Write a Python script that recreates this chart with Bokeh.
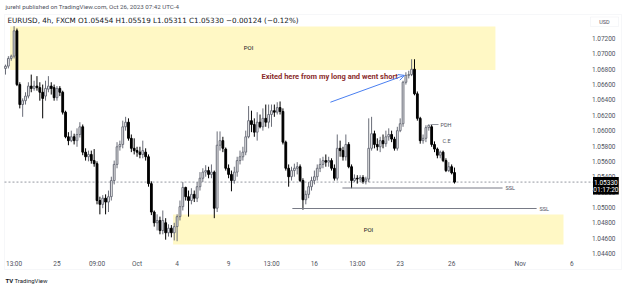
from bokeh.plotting import figure
from bokeh.models import (ColumnDataSource, FixedTicker, NumeralTickFormatter, Label,
                          Arrow, OpenHead, BoxAnnotation)
from bokeh.embed import file_html
from bokeh.resources import INLINE

# ---------------- data (EURUSD 4h candles) ----------------
opens = [1.0681,1.0684,1.0694,1.0697,1.0730,1.0660,1.0634,1.0639,1.0645,1.0658,
         1.0655,1.0658,1.0656,1.0650,1.0645,1.0654,1.0658,1.0656,1.0643,1.0655,
         1.0650,1.0624,1.0592,1.0587,1.0592,1.0587,1.0595,1.0605,1.0572,1.0566,
         1.0569,1.0561,1.0557,1.0509,1.0504,1.0512,1.0507,1.0514,1.0535,1.0556,
         1.0579,1.0582,1.0605,1.0611,1.0590,1.0577,1.0574,1.0572,1.0569,1.0572,
         1.0566,1.0531,1.0494,1.0480,1.0483,1.0470,1.0480,1.0467,1.0473,1.0467,
         1.0475,1.0488,1.0501,1.0526,1.0514,1.0509,1.0517,1.0512,1.0527,1.0538,
         1.0546,1.0548,1.0543,1.0546,1.0499,1.0581,1.0587,1.0576,1.0551,1.0543,
         1.0535,1.0546,1.0561,1.0566,1.0572,1.0592,1.0613,1.0608,1.0598,1.0611,
         1.0605,1.0616,1.0611,1.0621,1.0626,1.0624,1.0630,1.0625,1.0585,1.0551,
         1.0540,1.0548,1.0551,1.0553,1.0535,1.0510,1.0517,1.0527,1.0535,1.0540,
         1.0551,1.0556,1.0561,1.0559,1.0561,1.0551,1.0538,1.0577,1.0574,1.0566,
         1.0582,1.0553,1.0535,1.0538,1.0537,1.0539,1.0534,1.0537,1.0577,1.0596,
         1.0582,1.0579,1.0587,1.0583,1.0592,1.0595,1.0589,1.0577,1.0600,1.0609,
         1.0663,1.0672,1.0673,1.0680,1.0648,1.0616,1.0587,1.0590,1.0604,1.0605,
         1.0582,1.0576,1.0568,1.0572,1.0561,1.0548,1.0553,1.05454]
highs = [1.0686,1.0697,1.0699,1.0736,1.0733,1.0663,1.0642,1.0650,1.0663,1.0673,
         1.0665,1.0671,1.0663,1.0660,1.0665,1.0671,1.0663,1.0660,1.0658,1.0658,
         1.0652,1.0626,1.0598,1.0600,1.0596,1.0603,1.0611,1.0608,1.0577,1.0574,
         1.0574,1.0576,1.0560,1.0514,1.0516,1.0517,1.0522,1.0540,1.0561,1.0585,
         1.0587,1.0613,1.0618,1.0616,1.0595,1.0590,1.0579,1.0579,1.0587,1.0577,
         1.0569,1.0534,1.0496,1.0491,1.0488,1.0496,1.0486,1.0478,1.0477,1.0480,
         1.0491,1.0509,1.0533,1.0527,1.0522,1.0525,1.0522,1.0533,1.0546,1.0551,
         1.0555,1.0553,1.0556,1.0548,1.0599,1.0599,1.0592,1.0578,1.0556,1.0548,
         1.0553,1.0566,1.0574,1.0579,1.0600,1.0632,1.0626,1.0616,1.0624,1.0621,
         1.0629,1.0634,1.0634,1.0634,1.0634,1.0637,1.0638,1.0629,1.0587,1.0556,
         1.0553,1.0557,1.0559,1.0556,1.0538,1.0522,1.0533,1.0540,1.0548,1.0556,
         1.0564,1.0566,1.0569,1.0566,1.0564,1.0556,1.0595,1.0587,1.0579,1.0595,
         1.0585,1.0556,1.0543,1.0542,1.0542,1.0542,1.0540,1.0616,1.0618,1.0600,
         1.0590,1.0592,1.0595,1.0600,1.0603,1.0600,1.0592,1.0605,1.0616,1.0665,
         1.0676,1.0678,1.0693,1.0693,1.0651,1.0618,1.0595,1.0607,1.0608,1.0608,
         1.0586,1.0578,1.0574,1.0574,1.0564,1.0559,1.0556,1.05519]
lows = [1.0673,1.0681,1.0691,1.0694,1.0658,1.0629,1.0618,1.0634,1.0642,1.0650,
        1.0652,1.0652,1.0639,1.0616,1.0639,1.0650,1.0647,1.0639,1.0639,1.0645,
        1.0621,1.0590,1.0581,1.0585,1.0582,1.0579,1.0591,1.0568,1.0561,1.0560,
        1.0557,1.0553,1.0504,1.0491,1.0499,1.0491,1.0494,1.0509,1.0530,1.0551,
        1.0574,1.0577,1.0600,1.0587,1.0572,1.0569,1.0566,1.0564,1.0564,1.0561,
        1.0527,1.0490,1.0475,1.0470,1.0465,1.0465,1.0458,1.0462,1.0461,1.0457,
        1.0456,1.0483,1.0496,1.0509,1.0488,1.0504,1.0507,1.0507,1.0522,1.0533,
        1.0540,1.0538,1.0538,1.0486,1.0494,1.0574,1.0572,1.0548,1.0538,1.0521,
        1.0531,1.0540,1.0556,1.0561,1.0568,1.0590,1.0598,1.0592,1.0587,1.0603,
        1.0600,1.0605,1.0603,1.0605,1.0618,1.0621,1.0621,1.0582,1.0548,1.0527,
        1.0535,1.0540,1.0543,1.0533,1.0497,1.0504,1.0512,1.0522,1.0530,1.0535,
        1.0546,1.0551,1.0553,1.0553,1.0548,1.0535,1.0535,1.0566,1.0561,1.0561,
        1.0551,1.0525,1.0533,1.0531,1.0533,1.0531,1.0530,1.0533,1.0574,1.0577,
        1.0574,1.0572,1.0577,1.0579,1.0587,1.0585,1.0574,1.0574,1.0598,1.0605,
        1.0660,1.0668,1.0671,1.0646,1.0613,1.0583,1.0583,1.0585,1.0600,1.0579,
        1.0572,1.0564,1.0564,1.0559,1.0546,1.0546,1.0543,1.05311]
closes = [1.0684,1.0694,1.0697,1.0730,1.0660,1.0634,1.0639,1.0645,1.0658,1.0655,
          1.0658,1.0656,1.0650,1.0642,1.0655,1.0658,1.0655,1.0643,1.0655,1.0650,
          1.0624,1.0592,1.0587,1.0592,1.0587,1.0595,1.0605,1.0572,1.0566,1.0569,
          1.0561,1.0557,1.0509,1.0504,1.0512,1.0507,1.0514,1.0535,1.0556,1.0579,
          1.0582,1.0605,1.0611,1.0590,1.0577,1.0574,1.0572,1.0569,1.0574,1.0566,
          1.0531,1.0494,1.0480,1.0483,1.0470,1.0483,1.0467,1.0473,1.0467,1.0475,
          1.0488,1.0501,1.0526,1.0514,1.0509,1.0517,1.0512,1.0527,1.0538,1.0546,
          1.0548,1.0543,1.0546,1.0499,1.0581,1.0587,1.0577,1.0551,1.0543,1.0535,
          1.0546,1.0561,1.0566,1.0572,1.0592,1.0613,1.0608,1.0598,1.0611,1.0605,
          1.0616,1.0611,1.0621,1.0626,1.0624,1.0630,1.0625,1.0585,1.0551,1.0540,
          1.0548,1.0551,1.0553,1.0535,1.0510,1.0517,1.0527,1.0535,1.0540,1.0551,
          1.0556,1.0561,1.0559,1.0561,1.0551,1.0538,1.0577,1.0574,1.0566,1.0582,
          1.0553,1.0535,1.0538,1.0537,1.0539,1.0534,1.0537,1.0577,1.0596,1.0582,
          1.0579,1.0587,1.0583,1.0592,1.0595,1.0589,1.0577,1.0600,1.0609,1.0663,
          1.0672,1.0673,1.0680,1.0648,1.0616,1.0587,1.0590,1.0604,1.0607,1.0582,
          1.0576,1.0568,1.0572,1.0561,1.0548,1.0553,1.0545,1.05330]
bar_index = list(range(len(opens)))

x_tick_pos = [3, 18, 32, 46, 60, 78, 93, 108, 123, 138, 156, 180, 198]
x_tick_labels = ["13:00", "25", "09:00", "Oct", "4", "9", "13:00", "16", "13:00",
                 "23", "26", "Nov", "6"]
y_ticks = [1.044, 1.046, 1.048, 1.050, 1.052, 1.054, 1.056, 1.058, 1.060,
           1.062, 1.064, 1.066, 1.068, 1.070, 1.072]

last_price = 1.05330
poi_top = dict(left=1.6, right=171.3, top=1.07356, bottom=1.0679)
poi_bottom = dict(left=58.6, right=195.1, top=1.04908, bottom=1.04518)
ssl_levels = [(117.8, 173.8, 1.05253), (100.3, 185.7, 1.04986)]

# ---------------- figure: the frame is the whole canvas ----------------
W, H = 625, 287
p = figure(width=W, height=H, output_backend="svg", toolbar_location=None,
           x_range=(-1.748, 216.78), y_range=(1.039572, 1.076949),
           y_axis_location="left",
           min_border_left=0, min_border_right=0, min_border_top=0, min_border_bottom=0)
p.background_fill_color = "white"
p.border_fill_color = "white"
p.outline_line_color = None
p.xgrid.grid_line_color = None
p.ygrid.grid_line_color = None

FONT = "Roboto"
TXT = "#50535e"

# price scale: axis fixed inside the canvas, labels right-aligned at x=615
yax = p.yaxis[0]
yax.fixed_location = 213.99
yax.ticker = FixedTicker(ticks=y_ticks)
yax.formatter = NumeralTickFormatter(format="0.00000")
yax.axis_line_color = None
yax.major_tick_line_color = None
yax.minor_tick_line_color = None
yax.major_tick_out = 0
yax.major_label_standoff = 2
yax.major_label_text_font = FONT
yax.major_label_text_font_size = "6.5px"
yax.major_label_text_color = TXT

# time scale
xax = p.xaxis[0]
xax.fixed_location = 1.043479
xax.ticker = FixedTicker(ticks=x_tick_pos)
xax.major_label_overrides = {k: v for k, v in zip(x_tick_pos, x_tick_labels)}
xax.axis_line_color = None
xax.major_tick_line_color = None
xax.minor_tick_line_color = None
xax.major_tick_out = 0
xax.major_label_standoff = 2
xax.major_label_text_font = FONT
xax.major_label_text_font_size = "6.5px"
xax.major_label_text_color = TXT

def sy(py):
    return H - py

# outer border of the chart
p.add_layout(BoxAnnotation(left=4, right=621, top=sy(14), bottom=sy(269),
                           left_units="screen", right_units="screen",
                           top_units="screen", bottom_units="screen",
                           fill_alpha=0, line_color="#e0e3eb", line_width=1, level="underlay"))

# POI zones
for b in (poi_top, poi_bottom):
    p.quad(left=[b["left"]], right=[b["right"]], top=[b["top"]], bottom=[b["bottom"]],
           fill_color="#fff8c5", line_color=None)

# current price dashed line (pane only)
p.segment(x0=[-0.35], y0=[last_price], x1=[205.6], y1=[last_price],
          line_color="#9598a1", line_dash="2 2", line_width=1)

# candles
UP_LINE, DOWN = "#6a6d78", "#000000"
up = [c >= o for o, c in zip(opens, closes)]
src = ColumnDataSource(dict(
    x=bar_index, h=highs, l=lows,
    top=[max(o, c) for o, c in zip(opens, closes)],
    bottom=[min(o, c) for o, c in zip(opens, closes)],
    fill=["white" if u else DOWN for u in up],
    line=[UP_LINE if u else DOWN for u in up]))
p.segment(x0="x", y0="h", x1="x", y1="l", line_color="line", line_width=1, source=src)
p.vbar(x="x", width=0.62, top="top", bottom="bottom", fill_color="fill",
       line_color="line", line_width=1, source=src)

# SSL lines
for x0, x1, lvl in ssl_levels:
    p.segment(x0=[x0], y0=[lvl], x1=[x1], y1=[lvl], line_color="#787b86", line_width=1)
    p.add_layout(Label(x=x1 + 1.0, y=lvl, text="SSL", text_font=FONT, text_font_size="5.5px",
                       text_color=TXT, text_baseline="middle"))

# PDH / C.E
p.segment(x0=[148.6], y0=[1.0608], x1=[151.4], y1=[1.0608], line_color="#9598a1", line_width=1)
p.add_layout(Label(x=152.1, y=1.0608, text="PDH", text_font=FONT, text_font_size="5.5px",
                   text_color=TXT, text_baseline="middle"))
p.add_layout(Label(x=152.8, y=1.05859, text="C.E", text_font=FONT, text_font_size="5.5px",
                   text_color=TXT, text_baseline="middle"))

# POI labels
p.add_layout(Label(x=85.0, y=1.0708, text="POI", text_font=FONT, text_font_size="6px",
                   text_color="#131722", text_align="center", text_baseline="middle"))
p.add_layout(Label(x=126.9, y=1.0471, text="POI", text_font=FONT, text_font_size="6px",
                   text_color="#131722", text_align="center", text_baseline="middle"))

# note + arrow
p.add_layout(Label(x=89.5, y=1.0671, text="Exited here from my long and went short",
                   text_font=FONT, text_font_size="7.5px", text_font_style="bold",
                   text_color="#8b2c2c", text_baseline="middle"))
p.add_layout(Arrow(x_start=113.6, y_start=1.0637, x_end=139.5, y_end=1.0672,
                   line_color="#4a7ff0", line_width=1,
                   end=OpenHead(size=6, line_color="#4a7ff0", line_width=1)))

# screen-positioned texts (canvas pixel coordinates, y measured from top)
def sl(px, py, text, **kw):
    p.add_layout(Label(x=px, y=sy(py), x_units="screen", y_units="screen",
                       text=text, text_baseline="middle", **kw))

sl(5, 6, "jurehl published on TradingView.com, Oct 26, 2023 07:42 UTC-4",
   text_font=FONT, text_font_size="6.2px", text_color=TXT)
sl(7, 20, "EURUSD, 4h, FXCM   O1.05454   H1.05519   L1.05311   C1.05330   \u22120.00124 (\u22120.12%)",
   text_font="DejaVu Sans", text_font_size="7.2px", text_color="#131722")
sl(5, 280, "TV", text_font=FONT, text_font_size="6px", text_font_style="bold",
   text_color="#131722")
sl(14, 280, "TradingView", text_font=FONT, text_font_size="6px", text_color="#131722")

# USD box
p.add_layout(BoxAnnotation(left=590, right=618, top=sy(16.5), bottom=sy(26),
                           left_units="screen", right_units="screen",
                           top_units="screen", bottom_units="screen",
                           fill_color="white", fill_alpha=1, line_color="#e0e3eb", line_width=1))
sl(604, 21.3, "USD", text_font=FONT, text_font_size="5.5px", text_color=TXT, text_align="center")

# last price box
p.add_layout(BoxAnnotation(left=592.5, right=618.3, top=sy(176.5), bottom=sy(194),
                           left_units="screen", right_units="screen",
                           top_units="screen", bottom_units="screen",
                           fill_color="black", fill_alpha=1, line_color=None))
sl(605.4, 181.6, "1.05330", text_font=FONT, text_font_size="6.5px", text_color="white",
   text_align="center")
sl(605.4, 189.3, "01:17:20", text_font=FONT, text_font_size="6.5px", text_color="white",
   text_align="center")

open("out.html", "w").write(file_html(p, INLINE))
